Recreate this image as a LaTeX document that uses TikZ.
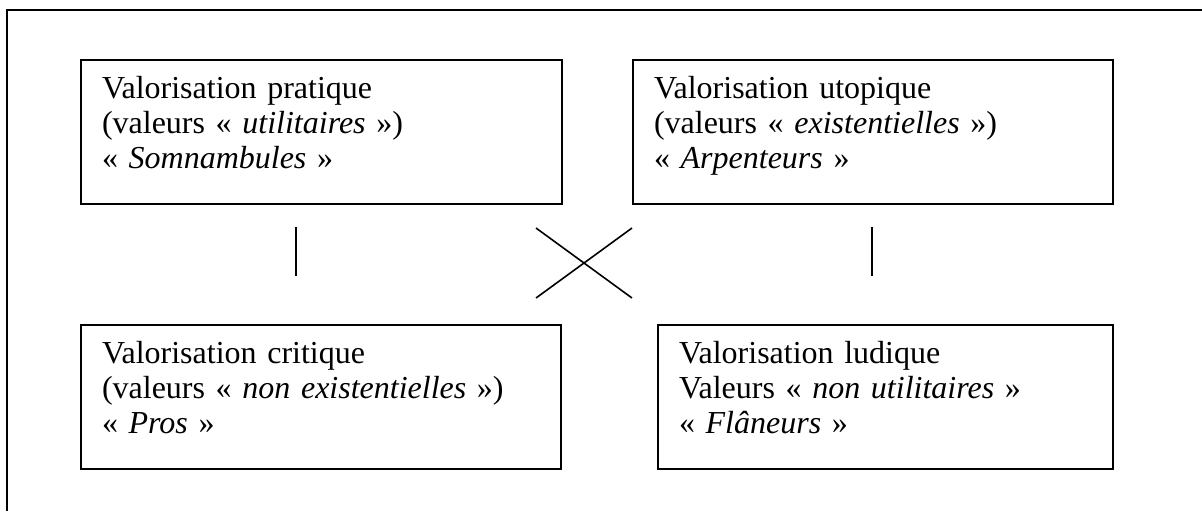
\documentclass[tikz,border=0pt]{standalone}
\usepackage{fontspec}
\setmainfont{Liberation Serif}

\tikzset{
  valbox/.style={draw, line width=1pt, anchor=north west, align=left,
    inner xsep=10.5pt, inner ysep=0pt, text height=19pt, text depth=53pt,
    font=\fontsize{16pt}{17.5pt}\selectfont},
  liaison/.style={line width=0.9pt}
}

\begin{document}
\begin{tikzpicture}[x=0.5pt, y=-0.5pt]
\useasboundingbox (0,0) rectangle (1202,511);
\draw[line width=1.2pt] (7,511) |- (1202,10);

\node[valbox, text width=219.5pt] (pratique) at (80,59) {Valorisation pratique\\(valeurs «~\textit{utilitaires}~»)\\«~\textit{Somnambules}~»};
\node[valbox, text width=219pt] (utopique) at (632,59) {Valorisation utopique\\(valeurs «~\textit{existentielles}~»)\\«~\textit{Arpenteurs}~»};
\node[valbox, text width=219pt] (critique) at (80,324) {Valorisation critique\\(valeurs «~\textit{non existentielles}~»)\\«~\textit{Pros}~»};
\node[valbox, text width=206.5pt] (ludique) at (657,324) {Valorisation ludique\\Valeurs «~\textit{non utilitaires}~»\\«~\textit{Flâneurs}~»};

\coordinate (g1) at (296,227);
\coordinate (g2) at (296,276);
\coordinate (d1) at (872,227);
\coordinate (d2) at (872,276);
\coordinate (x1) at (536,228);
\coordinate (x2) at (632,298);
\coordinate (x3) at (536,298);
\coordinate (x4) at (632,228);
\draw[liaison] (g1)--(g2);
\draw[liaison] (d1)--(d2);
\draw[line width=0.8pt] (x1)--(x2);
\draw[line width=0.8pt] (x3)--(x4);
\end{tikzpicture}
\end{document}
